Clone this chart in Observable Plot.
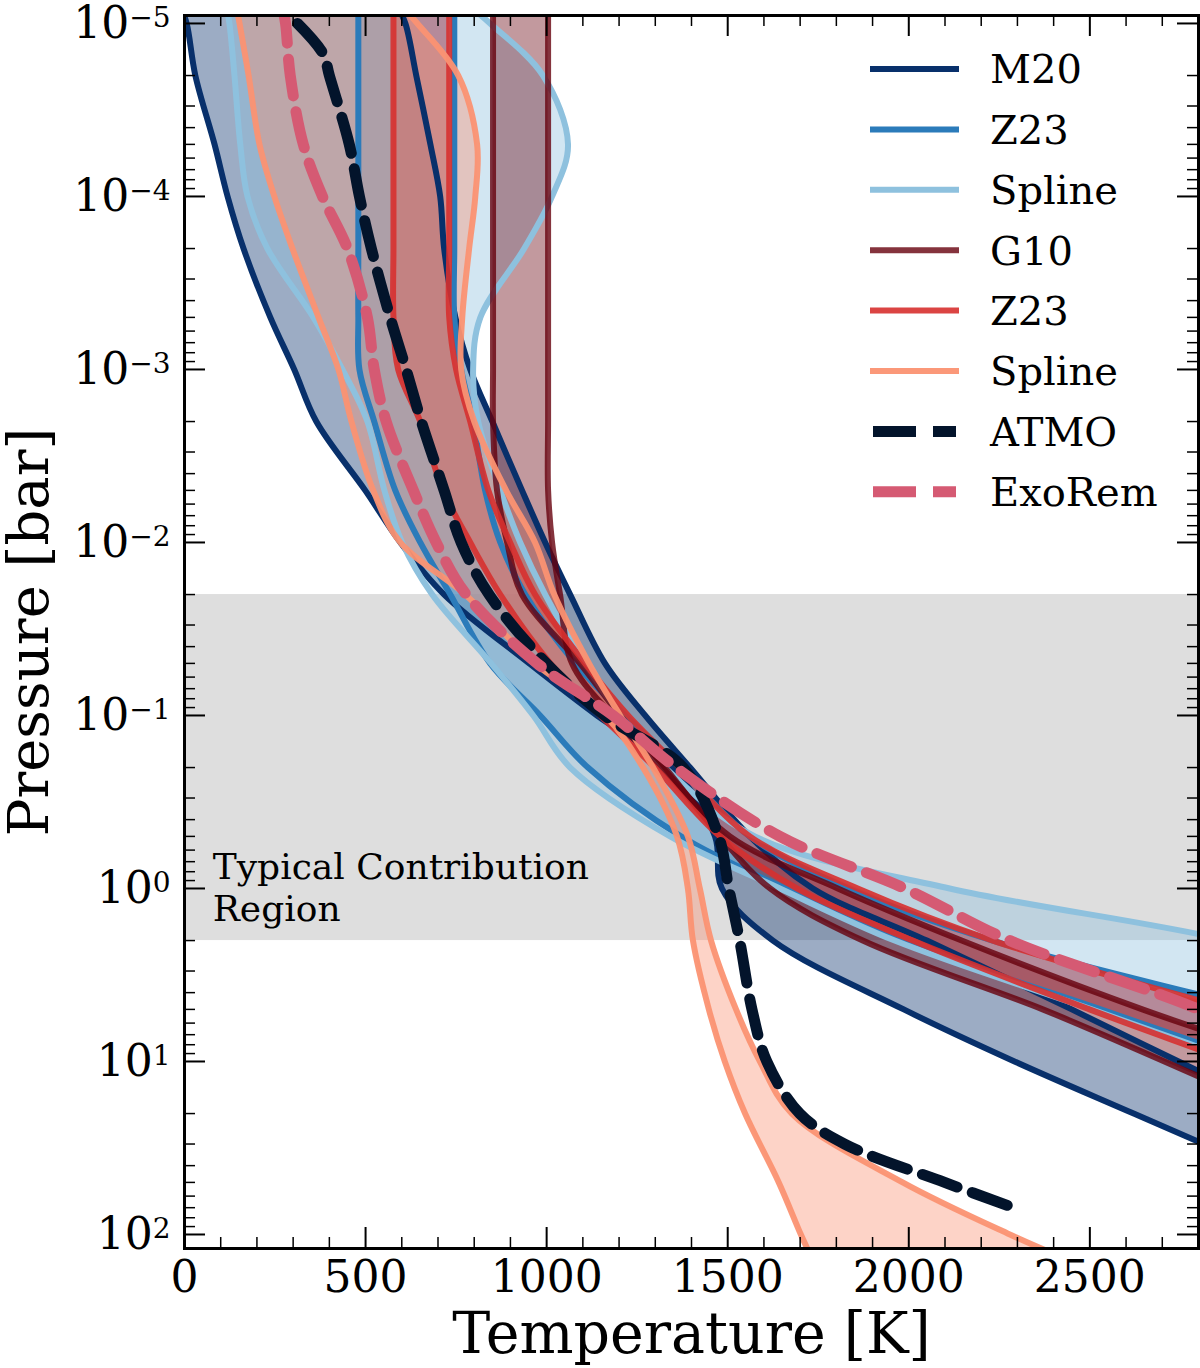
<!DOCTYPE html>
<html>
<head>
<meta charset="utf-8">
<script src="https://cdn.jsdelivr.net/npm/d3@7"></script>
<script src="https://cdn.jsdelivr.net/npm/@observablehq/plot@0.6"></script>
<style>
  body { margin: 0; background: white; }
  #chart svg { display: block; }
</style>
</head>
<body>
<div id="chart"></div>
<script>
// pressure levels (bar) shared by the retrieved bands
const pressure = [8e-6, 1e-5, 2e-5, 5e-5, 1e-4, 2e-4, 5e-4, 1e-3, 2e-3, 5e-3, 1e-2, 2e-2, 5e-2, 0.1, 0.2, 0.5, 1, 2, 5, 10, 20, 50, 100, 130];

// temperature (K) of the cold / hot edge of each band
const m20Cold = [-11, 6, 30, 83, 119, 163, 237, 303, 364, 499, 596, 717, 952, 1139, 1346, 1465, 1484, 1625, 1986, 2292, 2621, 3059, 3382, 3492];
const m20Hot = [588, 610, 640, 679, 706, 717, 748, 789, 850, 932, 996, 1065, 1161, 1272, 1396, 1561, 1735, 2050, 2450, 2745, 3051, 3465, 3796, 3906];
const z23BlueCold = [480, 480, 480, 480, 480, 480, 480, 483, 524, 582, 651, 734, 844, 982, 1114, 1371, 1658, 1975, 2530, 2946, 3354, 3879, 4265, 4403];
const z23BlueHot = [745, 745, 745, 745, 745, 745, 745, 764, 797, 830, 872, 941, 1079, 1217, 1368, 1561, 1832, 2232, 2960, 3492, 3961, 4568, 4982, 5120];
const splineBlueCold = [116, 124, 138, 154, 174, 229, 356, 436, 505, 552, 601, 684, 847, 963, 1065, 1341, 1644, 1961, 2505, 2913, 3327, 3851, 4237, 4375];
const splineBlueHot = [789, 844, 990, 1059, 1015, 938, 817, 797, 811, 872, 927, 996, 1106, 1203, 1327, 1575, 2113, 2885, 3603, 4044, 4458, 5010, 5423, 5561];
const g10Cold = [852, 852, 852, 852, 852, 852, 852, 852, 852, 863, 891, 932, 1092, 1203, 1327, 1479, 1617, 1873, 2370, 2706, 3034, 3465, 3796, 3906];
const g10Hot = [1004, 1004, 1004, 1004, 1004, 1004, 1004, 1004, 1004, 1004, 1015, 1037, 1070, 1181, 1319, 1506, 1804, 2146, 2645, 3068, 3465, 3961, 4320, 4458];
const z23RedCold = [577, 577, 577, 577, 577, 577, 577, 590, 651, 714, 789, 872, 1010, 1148, 1299, 1479, 1691, 2011, 2499, 2891, 3272, 3768, 4154, 4292];
const z23RedHot = [731, 731, 731, 731, 731, 731, 731, 750, 789, 839, 899, 968, 1106, 1225, 1368, 1561, 1859, 2232, 2891, 3410, 3879, 4458, 4872, 5010];
const splineRedCold = [143, 152, 177, 207, 248, 298, 370, 425, 461, 521, 596, 775, 968, 1161, 1266, 1360, 1390, 1404, 1448, 1492, 1548, 1641, 1702, 1727];
const splineRedHot = [601, 643, 756, 808, 803, 786, 767, 764, 800, 888, 968, 1021, 1117, 1203, 1294, 1390, 1423, 1454, 1523, 1589, 1677, 1983, 2279, 2403];

// forward models
const atmoP = [1e-5, 1.5e-5, 2e-5, 5e-5, 1e-4, 2e-4, 5e-4, 1e-3, 2e-3, 5e-3, 1e-2, 2e-2, 5e-2, 0.1, 0.2, 0.5, 1, 2, 5, 10, 20, 30, 50, 72];
const atmoT = [312, 383, 400, 455, 483, 516, 568, 612, 654, 717, 764, 841, 999, 1160, 1377, 1475, 1503, 1533, 1567, 1608, 1699, 1823, 2099, 2306];
const exoremP = [8e-6, 1e-5, 2e-5, 5e-5, 1e-4, 2e-4, 5e-4, 1e-3, 2e-3, 5e-3, 1e-2, 2e-2, 5e-2, 0.1, 0.2, 0.5, 1, 2, 5, 10];
const exoremT = [270, 279, 292, 328, 381, 450, 505, 524, 557, 632, 695, 778, 974, 1183, 1357, 1644, 1989, 2279, 2800, 3100];

// contribution region (bar)
const contribution = [0.02, 2];

// ticks
const xMajor = [0, 500, 1000, 1500, 2000, 2500];
const xMinor = d3.range(100, 2800, 100).filter(d => d % 500 !== 0);
const yMajor = [1e-5, 1e-4, 1e-3, 1e-2, 1e-1, 1, 10, 100];
const yMinor = [-6, -5, -4, -3, -2, -1, 0, 1].flatMap(k => [2, 3, 4, 5, 6, 7, 8, 9].map(m => m * 10 ** k))
  .filter(d => d >= 9e-6 && d <= 120);

const bands = [
  {label: "M20", cold: m20Cold, hot: m20Hot, color: "#08306b", op: 1},
  {label: "Z23", cold: z23BlueCold, hot: z23BlueHot, color: "#2b7bba", op: 1},
  {label: "Spline", cold: splineBlueCold, hot: splineBlueHot, color: "#8ec1de", op: 1},
  {label: "G10", cold: g10Cold, hot: g10Hot, color: "#67000d", op: 0.8},
  {label: "Z23", cold: z23RedCold, hot: z23RedHot, color: "#d7302f", op: 0.9},
  {label: "Spline", cold: splineRedCold, hot: splineRedHot, color: "#fb9272", op: 0.95}
];
const models = [
  {label: "ATMO", P: atmoP, T: atmoT, color: "#03142b"},
  {label: "ExoRem", P: exoremP, T: exoremT, color: "#d55a73"}
];

const W = 1200, H = 1368;
const mL = 184, mR = 2, mT = 15, mB = 120;
const fw = W - mL - mR, fh = H - mT - mB;
const curve = "catmull-rom";

const bandRows = bands.map(b => pressure.map((p, i) => ({P: p, lo: b.cold[i], hi: b.hot[i]})));

const marks = [
  Plot.rect([0], {x1: 0, x2: 2800, y1: contribution[0], y2: contribution[1], fill: "#dedede"}),
  Plot.text([0], {x: 78, y: 0.97, text: () => "Typical Contribution\nRegion", textAnchor: "start",
    lineAnchor: "middle", lineHeight: 1.17, fontSize: 36, fill: "black"})
];

// shaded ranges first, then every edge on top
bands.forEach((b, k) => {
  marks.push(Plot.areaX(bandRows[k], {y: "P", x1: "lo", x2: "hi", fill: b.color, fillOpacity: 0.4, curve, clip: true}));
});
bands.forEach((b, k) => {
  marks.push(
    Plot.line(bandRows[k], {x: "lo", y: "P", stroke: b.color, strokeOpacity: b.op, strokeWidth: 6, curve, clip: true}),
    Plot.line(bandRows[k], {x: "hi", y: "P", stroke: b.color, strokeOpacity: b.op, strokeWidth: 6, curve, clip: true})
  );
});

models.forEach(m => {
  const rows = m.P.map((p, i) => ({P: p, T: m.T[i]}));
  marks.push(Plot.line(rows, {x: "T", y: "P", stroke: m.color, strokeWidth: 11,
    strokeDasharray: "37,16", curve, clip: true}));
});

// inward ticks on all four sides
marks.push(
  Plot.tickX(xMajor, {x: d => d, insetTop: fh - 21, stroke: "black", strokeWidth: 2}),
  Plot.tickX(xMinor, {x: d => d, insetTop: fh - 11, stroke: "black", strokeWidth: 1.5}),
  Plot.tickX(xMajor, {x: d => d, insetBottom: fh - 21, stroke: "black", strokeWidth: 2}),
  Plot.tickX(xMinor, {x: d => d, insetBottom: fh - 11, stroke: "black", strokeWidth: 1.5}),
  Plot.tickY(yMajor, {y: d => d, insetRight: fw - 21, stroke: "black", strokeWidth: 2}),
  Plot.tickY(yMinor, {y: d => d, insetRight: fw - 11, stroke: "black", strokeWidth: 1.5}),
  Plot.tickY(yMajor, {y: d => d, insetLeft: fw - 21, stroke: "black", strokeWidth: 2}),
  Plot.tickY(yMinor, {y: d => d, insetLeft: fw - 11, stroke: "black", strokeWidth: 1.5}),
  Plot.frame({stroke: "black", strokeWidth: 3}),
  Plot.text(["Temperature [K]"], {frameAnchor: "bottom", dy: 86, lineAnchor: "middle", textAnchor: "middle",
    fontSize: 57, fill: "black"}),
  Plot.text(["Pressure [bar]"], {frameAnchor: "left", dx: -154, rotate: -90, lineAnchor: "middle",
    textAnchor: "middle", fontSize: 56, fill: "black"})
);

const chart = Plot.plot({
  width: W,
  height: H,
  marginLeft: mL,
  marginRight: mR,
  marginTop: mT,
  marginBottom: mB,
  style: {fontFamily: "DejaVu Serif", fontSize: "44px", color: "black", background: "white"},
  x: {domain: [0, 2800], ticks: xMajor, tickSize: 0, tickPadding: 12, tickFormat: d => String(d), label: null},
  y: {type: "log", domain: [10 ** -5.046, 10 ** 2.081], reverse: true, ticks: yMajor, tickSize: 0,
      tickPadding: 14, tickFormat: d => "10^" + Math.round(Math.log10(d)), label: null},
  marks
});

d3.select('#chart').append(() => chart);

// superscript exponents on the pressure ticks
d3.select(chart).selectAll("text").each(function () {
  const t = this.textContent;
  if (/^10\^/.test(t)) {
    const e = t.slice(3).replace("-", "\u2212");
    const s = d3.select(this);
    s.text("10");
    s.append("tspan").attr("dy", -11).attr("font-size", 28).text(e);
  }
});

// legend inside the frame, top right
const legendItems = bands.map(b => ({label: b.label, color: b.color, op: b.op, dash: null}))
  .concat(models.map(m => ({label: m.label, color: m.color, op: 1, dash: "43,17"})));
const leg = d3.select(chart).append("g")
  .attr("font-family", "DejaVu Serif").attr("font-size", 40).attr("text-anchor", "start");
legendItems.forEach((d, i) => {
  const y = 69 + i * 60.4;
  leg.append("line")
    .attr("x1", d.dash ? 873 : 870).attr("x2", d.dash ? 956 : 959)
    .attr("y1", y).attr("y2", y)
    .attr("stroke", d.color).attr("stroke-opacity", d.op)
    .attr("stroke-width", d.dash ? 11 : 6)
    .attr("stroke-dasharray", d.dash);
  leg.append("text").attr("x", 990).attr("y", y).attr("dy", "0.36em").attr("fill", "black").text(d.label);
});
</script>
</body>
</html>
